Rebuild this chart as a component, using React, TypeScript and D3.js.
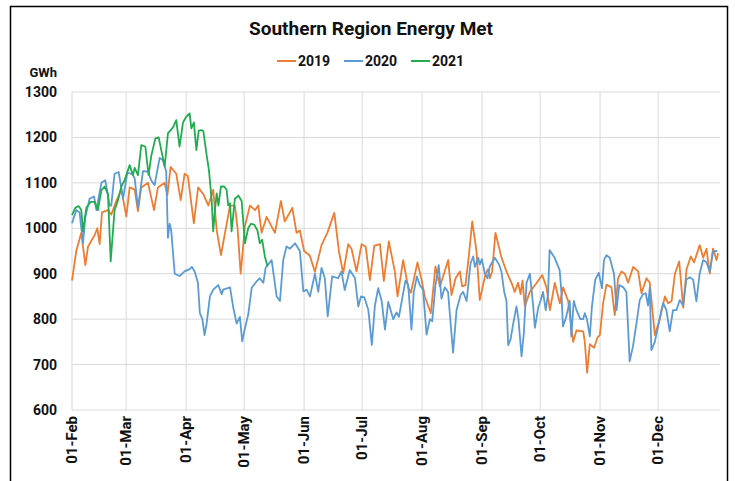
import React from 'react'
import * as d3 from 'd3'

const width = 735
const height = 481
const margin = { left: 72, right: 15, top: 92, bottom: 71 }

const monthLabels = ['01-Feb', '01-Mar', '01-Apr', '01-May', '01-Jun', '01-Jul', '01-Aug', '01-Sep', '01-Oct', '01-Nov', '01-Dec']
const monthDays = [0, 28, 59, 89, 120, 150, 181, 212, 242, 273, 303]
const yTicks = [600, 700, 800, 900, 1000, 1100, 1200, 1300]

// [day since 01-Feb, GWh]
const data2019: [number, number][] = [
  [0, 885], [2.2, 950], [4.8, 990], [6.9, 919], [8.3, 960], [11.7, 985], [13.1, 1000], [14.3, 965], [15.5, 1035], [18.6, 1040],
  [20.3, 1030], [22.9, 1060], [25.5, 1085], [28.1, 1026], [29.8, 1090], [32.4, 1085], [34.1, 1038], [35.8, 1090], [39.3, 1100], [42.4, 1040],
  [44.4, 1090], [47.9, 1100], [49.3, 1073], [51, 1135], [53.9, 1120], [56.2, 1062], [58.2, 1120], [59.9, 1115], [63, 1011], [65.2, 1090],
  [67.9, 1075], [70.5, 1050], [73, 1085], [74.8, 996], [77, 941], [79.1, 990], [81.7, 1050], [84.2, 1050], [85.6, 1000], [87.2, 900],
  [89.4, 1005], [92, 1050], [94.6, 1040], [96.3, 1050], [98, 990], [100.6, 1025], [104.9, 990], [108, 1060], [110, 1015], [113.9, 1045],
  [116.1, 990], [117.8, 995], [120, 950], [122.9, 940], [125.6, 904], [129, 963], [132, 990], [135.6, 1034], [138, 949], [140.2, 901],
  [142.8, 965], [144.5, 955], [147.1, 905], [149.7, 965], [151.8, 960], [154, 886], [156.3, 962], [159.2, 965], [161.2, 884], [163.8, 971],
  [166.9, 905], [168.3, 850], [171.2, 930], [173.8, 870], [175.2, 858], [178.6, 925], [180.7, 887], [182.4, 850], [185.5, 813], [187.9, 916],
  [190.2, 872], [194.5, 930], [196.2, 853], [198.3, 890], [200.5, 905], [201.7, 872], [203.4, 875], [205.2, 941], [206.9, 1015], [209.1, 950],
  [210.8, 842], [213.8, 900], [215.1, 910], [216, 890], [217.2, 905], [218.9, 990], [222, 936], [224.6, 905], [227.2, 880], [228.9, 860],
  [230.6, 880], [231.9, 855], [232.9, 885], [234.1, 828], [236.7, 860], [240.1, 879], [243.1, 897], [245.3, 870], [247.1, 820], [249.6, 880],
  [252.2, 835], [253.9, 870], [256.5, 840], [259.1, 750], [260.8, 775], [264.3, 773], [265.1, 750], [266.3, 682], [267.7, 745], [269.9, 737],
  [271.7, 760], [272.9, 765], [274.6, 836], [276.3, 876], [278.9, 870], [280.6, 809], [282.3, 890], [284.1, 905], [285.8, 900], [287.5, 880],
  [290.1, 915], [292.7, 905], [294.4, 857], [297, 890], [298.7, 880], [301.3, 765], [303.9, 800], [306.5, 850], [308.2, 835], [310, 840],
  [311.7, 900], [313.9, 927], [316, 825], [317.7, 910], [319.9, 938], [321.6, 925], [324.5, 963], [326.3, 935], [328, 955], [329.7, 900],
  [331.4, 955], [333.2, 930], [334, 945],
]

const data2020: [number, number][] = [
  [0, 1011], [2.2, 1040], [3.9, 1035], [5.7, 967], [6.9, 1025], [9.1, 1065], [11.4, 1070], [12.6, 1040], [15.2, 1100], [17.2, 1106],
  [19.5, 1050], [20.3, 1050], [22, 1120], [24.1, 1124], [26.4, 1066], [28.6, 1122], [31, 1120], [32.4, 1110], [34.1, 1045], [36.7, 1126],
  [39.3, 1125], [41, 1105], [42.7, 1095], [45.3, 1155], [47, 1150], [48.7, 1125], [49.6, 979], [50.5, 1010], [51.3, 995], [53.1, 900],
  [55.6, 895], [58.2, 905], [60.8, 910], [62, 915], [63.4, 905], [65.1, 880], [66.1, 813], [67.4, 800], [68.5, 765], [69.6, 790],
  [71.3, 850], [73, 865], [75.6, 875], [77.4, 855], [78.2, 865], [81.7, 870], [83.4, 825], [85.1, 790], [86.8, 805], [88, 751],
  [89.4, 780], [91.1, 810], [92.9, 869], [95.4, 883], [97.1, 890], [98.9, 880], [100.1, 913], [103.2, 930], [105.8, 850], [107.5, 840],
  [109.2, 930], [110.9, 960], [112.7, 955], [115.3, 967], [117.8, 950], [119.6, 861], [121.3, 865], [123, 850], [125.6, 900], [127.3, 860],
  [129, 913], [130.7, 890], [132.2, 806], [134.5, 894], [137.6, 890], [139.3, 905], [141, 864], [143.6, 908], [146.3, 890], [148, 828],
  [149.4, 850], [151.1, 848], [153.2, 820], [155, 743], [156.6, 830], [158.3, 868], [160.1, 840], [161.8, 777], [163.5, 838], [166.1, 800],
  [167.8, 815], [169, 805], [170.7, 845], [172.4, 885], [173.8, 875], [175.5, 777], [176.7, 860], [178.3, 894], [179.8, 875], [181.5, 865],
  [183.3, 766], [185, 800], [186.2, 795], [187.9, 875], [189.6, 919], [191, 845], [192.7, 870], [194.4, 860], [197, 726], [198.8, 820],
  [200.9, 853], [202.2, 860], [204, 840], [206, 922], [207.4, 938], [208.3, 915], [210, 935], [210.8, 920], [211.9, 932], [213.4, 901],
  [214.8, 890], [216, 916], [218.6, 935], [220.8, 920], [222, 905], [223.4, 861], [224.6, 840], [225.5, 743], [226.7, 755], [228.1, 790],
  [229.8, 828], [230.8, 800], [232.4, 718], [233.6, 770], [235, 880], [236.7, 900], [238.4, 830], [239.3, 781], [241, 825], [242.2, 840],
  [243.5, 860], [244.9, 820], [246.1, 855], [246.9, 952], [249.5, 935], [252.1, 908], [253, 860], [253.8, 784], [255.5, 805], [257.3, 840],
  [258.1, 762], [259.4, 840], [260.8, 820], [262.8, 800], [264.2, 800], [265.1, 813], [266.2, 800], [267.7, 762], [268.8, 828], [270.5, 887],
  [272.3, 902], [274, 868], [275, 930], [276.3, 941], [278, 935], [280.2, 900], [281.5, 820], [282.9, 875], [285, 870], [286.6, 860],
  [288.3, 707], [290, 740], [291.8, 790], [293.5, 842], [295.2, 855], [296.6, 857], [297.8, 830], [298.7, 870], [299.5, 732], [301.3, 750],
  [303, 784], [304.7, 820], [305.6, 835], [307.3, 820], [309, 773], [310.7, 820], [312.5, 820], [314.2, 842], [315.9, 830], [317.6, 887],
  [319.4, 892], [321.1, 887], [322.8, 839], [324.5, 901], [326.3, 930], [328, 925], [329.7, 905], [331.4, 949], [333.6, 950],
]

const data2021: [number, number][] = [
  [0, 1029], [1.7, 1045], [3.4, 1049], [4.8, 1040], [5.7, 993], [7.4, 1045], [9.6, 1058], [11.7, 1058], [13.4, 1040], [15.2, 1084],
  [16.9, 1092], [18.6, 1075], [20, 927], [22, 1040], [23.8, 1062], [25.5, 1092], [27.2, 1106], [29.8, 1139], [31.5, 1117], [32.4, 1133],
  [34.1, 1117], [35.8, 1183], [37.9, 1180], [39.6, 1117], [41, 1160], [43.1, 1198], [44.8, 1200], [46.5, 1165], [47.9, 1136], [49.6, 1209],
  [52.2, 1222], [53.9, 1238], [55.6, 1180], [57.4, 1233], [59.1, 1246], [60.8, 1253], [61.7, 1220], [63, 1233], [64.3, 1172], [65.5, 1215],
  [67, 1216], [67.9, 1214], [69.6, 1161], [70.8, 1128], [72.2, 1062], [73, 993], [73.9, 1040], [74.8, 1077], [75.7, 1050], [77, 1092],
  [78.7, 1092], [79.9, 1085], [80.8, 1050], [81.7, 1055], [82.5, 993], [84.2, 1065], [86, 1072], [87.7, 1060], [89.4, 967], [91.1, 1000],
  [92.5, 1010], [94.2, 1008], [95.9, 995], [97.1, 967], [98.3, 975], [99.7, 938], [101.1, 916],
]

const series = [
  { name: '2019', color: '#ED7D31', data: data2019 },
  { name: '2020', color: '#5B9BD5', data: data2020 },
  { name: '2021', color: '#21AD4F', data: data2021 },
]

const font = 'Roboto, "Noto Sans", sans-serif'

const App = () => {
  const x = d3.scaleLinear().domain([0, 335]).range([margin.left, width - margin.right])
  const y = d3.scaleLinear().domain([600, 1300]).range([height - margin.bottom, margin.top])
  const line = d3.line<[number, number]>().x(d => x(d[0])).y(d => y(d[1]))

  return (
    <svg width={width} height={height} style={{ position: 'absolute', left: 0, top: 0, background: '#fff' }}>
      <rect x={0} y={0} width={width} height={height} fill="#fff" />
      <path d={`M10.5,${height} V6.5 H727.5 V${height}`} fill="none" stroke="#000" strokeWidth={1.5} />

      <text x={371} y={35} textAnchor="middle" fontFamily={font} fontWeight="bold" fontSize={19} fill="#111">
        Southern Region Energy Met
      </text>

      {series.map((s, i) => (
        <g key={s.name} transform={`translate(${277 + i * 67},61)`}>
          <line x1={0} x2={19} y1={0} y2={0} stroke={s.color} strokeWidth={2} />
          <text x={21} y={5} fontFamily={font} fontWeight="bold" fontSize={14} fill="#111">{s.name}</text>
        </g>
      ))}

      <text x={57} y={77} textAnchor="end" fontFamily={font} fontWeight="bold" fontSize={13} fill="#111">GWh</text>

      {yTicks.map(t => (
        <g key={t}>
          <line x1={margin.left} x2={width - margin.right} y1={y(t)} y2={y(t)} stroke="#d9d9d9" strokeWidth={1} />
          <text x={57} y={y(t) + 5} textAnchor="end" fontFamily={font} fontWeight="bold" fontSize={14} fill="#111">{t}</text>
        </g>
      ))}

      {monthDays.map((d, i) => (
        <g key={d}>
          <line x1={x(d)} x2={x(d)} y1={margin.top} y2={height - margin.bottom} stroke="#d9d9d9" strokeWidth={1} />
          <text
            transform={`translate(${x(d) + 5},${height - margin.bottom + 6}) rotate(-90)`}
            textAnchor="end"
            fontFamily={font}
            fontWeight="bold"
            fontSize={15}
            fill="#111"
          >
            {monthLabels[i]}
          </text>
        </g>
      ))}

      {series.map(s => (
        <path key={s.name} d={line(s.data) ?? ''} fill="none" stroke={s.color} strokeWidth={1.8} strokeLinejoin="round" />
      ))}
    </svg>
  )
}

export default App
